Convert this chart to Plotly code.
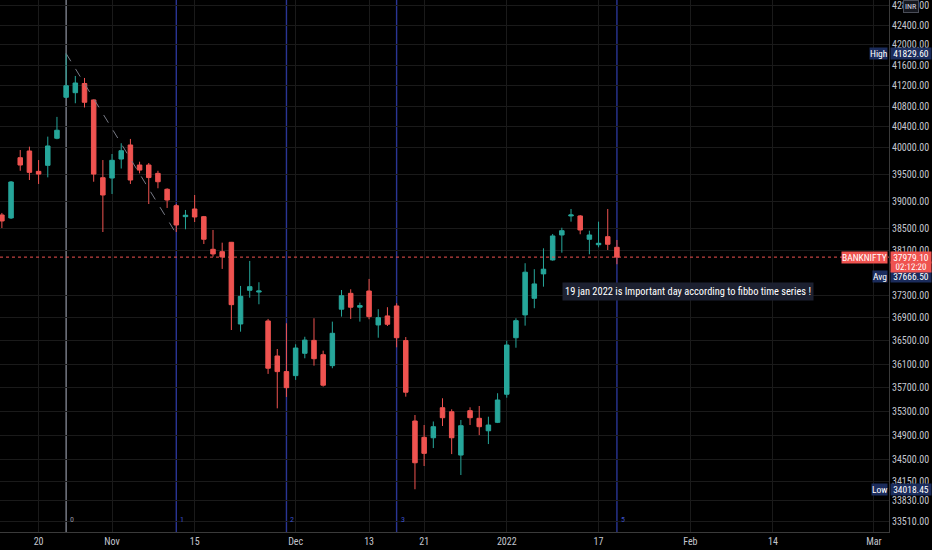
import numpy as np
import plotly.graph_objects as go

# ---------------- data ----------------
dates = [
    "2021-10-13", "2021-10-14", "2021-10-18", "2021-10-19", "2021-10-20", "2021-10-21", "2021-10-22",
    "2021-10-25", "2021-10-26", "2021-10-27", "2021-10-28", "2021-10-29",
    "2021-11-01", "2021-11-02", "2021-11-03", "2021-11-04", "2021-11-08", "2021-11-09", "2021-11-10",
    "2021-11-11", "2021-11-12", "2021-11-15", "2021-11-16", "2021-11-17", "2021-11-18", "2021-11-22",
    "2021-11-23", "2021-11-24", "2021-11-25", "2021-11-26", "2021-11-29", "2021-11-30",
    "2021-12-01", "2021-12-02", "2021-12-03", "2021-12-06", "2021-12-07", "2021-12-08", "2021-12-09",
    "2021-12-10", "2021-12-13", "2021-12-14", "2021-12-15", "2021-12-16", "2021-12-17", "2021-12-20",
    "2021-12-21", "2021-12-22", "2021-12-23", "2021-12-24", "2021-12-27", "2021-12-28", "2021-12-29",
    "2021-12-30", "2021-12-31",
    "2022-01-03", "2022-01-04", "2022-01-05", "2022-01-06", "2022-01-07", "2022-01-10", "2022-01-11",
    "2022-01-12", "2022-01-13", "2022-01-14", "2022-01-17", "2022-01-18", "2022-01-19",
]
opens = [38746, 38691, 39813, 39940, 39556, 39669, 40182, 40971, 41060, 41239, 40919, 39437,
         39431, 39788, 40054, 39675, 39675, 39518, 39221, 38917, 38715, 38856, 38715, 38120,
         38077, 38247, 36793, 37386, 37355, 36846, 36239, 35971, 35903, 36285, 36508, 36261,
         36073, 37052, 37332, 37087, 37373, 36776, 36934, 37109, 36505, 35138, 34867, 34860,
         35360, 35293, 34575, 35310, 35183, 34976, 35116, 35587, 36554, 36952, 37244, 37678,
         37928, 38380, 38728, 38728, 38302, 38203, 38349, 38156]
highs = [38783, 39375, 39958, 40022, 39769, 40213, 40591, 41829.6, 41387, 41348, 40928, 39769,
         39883, 40087, 40169, 39737, 39713, 39567, 39240, 38948, 38838, 39115, 38728, 38471,
         38240, 38253, 37463, 37910, 37529, 36881, 36359, 36806, 36440, 36571, 36893, 36330,
         36834, 37391, 37404, 37167, 37588, 37052, 37087, 37157, 36566, 35238, 35071, 35130,
         35519, 35333, 35155, 35367, 35389, 35210, 35604, 36502, 36893, 37869, 37762, 38138,
         38398, 38512, 38856, 38745, 38458, 38623, 38856, 38289]
lows = [38507, 38672, 39567, 39394, 39320, 39444, 40163, 40958, 40855, 40773, 39362, 38434,
        39134, 39609, 39320, 39518, 38948, 39240, 38875, 38434, 38484, 38617, 38216, 37987,
        37767, 36688, 36659, 37255, 37139, 35932, 35350, 35541, 35830, 36199, 36073, 35716,
        36029, 36922, 36881, 36834, 36876, 36554, 36758, 36388, 35546, 34018.45, 34396, 34690,
        35055, 34591, 34249, 35071, 34904, 34756, 35104, 35529, 36381, 36764, 37069, 37450,
        37915, 38059, 38623, 38393, 38030, 38156, 38107, 37851]
closes = [38636, 39357, 39675, 39537, 39505, 40035, 40335, 41196, 41249, 40874, 39505, 39115,
          39764, 39945, 39394, 39580, 39440, 39362, 39022, 38562, 38741, 38709, 38302, 38036,
          37982, 37132, 37279, 37450, 37373, 36029, 35971, 35698, 36376, 36513, 36192, 35740,
          36631, 37290, 37087, 37115, 36922, 36904, 36788, 36554, 35621, 34449, 34603, 35043,
          35193, 34860, 35060, 35193, 35043, 35071, 35490, 36428, 36851, 37708, 37499, 37762,
          38362, 38458, 38746, 38471, 38380, 38229, 38211, 37979.10]

price_ticks = [42800, 42400, 42000, 41600, 41200, 40800, 40400, 40000, 39500, 39000, 38500,
               38100, 37300, 36900, 36500, 36100, 35700, 35300, 34900, 34500, 34150, 33830, 33510]
time_tick_labels = ["20", "Nov", "15", "Dec", "13", "21", "2022", "17", "Feb", "14", "Mar"]
time_tick_bars = [0, 8, 17, 28, 36, 42, 51, 61, 71, 80, 91]

fib_anchor_date = "2021-10-25"
fib_unit_bars = 12
fib_levels = [0, 1, 2, 3, 5]
fib_low_price = 38400

high_value = 41829.60
low_value = 34018.45
avg_value = 37666.50
last_value = 37979.10
countdown = "02:12:20"
note_text = "19 jan 2022 is Important day according to fibbo time series !"
note_date = "2022-01-11"
note_price = 37360

# ---------------- layout constants ----------------
W, H = 932, 550
UP, DOWN = "#26a69a", "#ef5350"
GRID = "#1a1a1a"
TXT = "#c3c6ce"
NAVY = "#1b2c5c"
FONT = "Liberation Sans Narrow, Arial Narrow, Roboto Condensed, Liberation Sans, sans-serif"

origin = dates.index("2021-10-20")
bars = np.arange(len(dates)) - origin
xr = [-4.205, 92.64]
yr = [4.522909, 4.632517]

fig = go.Figure()
fig.add_trace(go.Candlestick(
    x=bars, open=opens, high=highs, low=lows, close=closes,
    increasing=dict(line=dict(color=UP, width=1), fillcolor=UP),
    decreasing=dict(line=dict(color=DOWN, width=1), fillcolor=DOWN),
    hoverinfo="skip", showlegend=False,
))

# current price dotted line
fig.add_trace(go.Scatter(x=xr, y=[last_value, last_value], mode="lines",
                         line=dict(color=DOWN, width=1, dash="dot"),
                         hoverinfo="skip", showlegend=False))

# fib time-zone diagonal
fib0 = int(bars[dates.index(fib_anchor_date)])
fig.add_trace(go.Scatter(x=[fib0, fib0 + fib_unit_bars], y=[high_value, fib_low_price], mode="lines",
                         line=dict(color="#787b86", width=1, dash="dash"),
                         hoverinfo="skip", showlegend=False))

shapes = []
annotations = []
for lv in fib_levels:
    xb = fib0 + lv * fib_unit_bars
    col = "#7d808c" if lv == 0 else "#2a3594"
    shapes.append(dict(type="line", xref="x", yref="paper", x0=xb, x1=xb, y0=0, y1=1,
                       line=dict(color=col, width=1.4), layer="below"))
    annotations.append(dict(x=xb, y=0.012, xref="x", yref="paper", text=str(lv), showarrow=False,
                            xanchor="left", yanchor="bottom", xshift=2,
                            font=dict(size=8, color="#8f929c" if lv == 0 else "#3a50c8", family=FONT)))

def lab(price, text, bg, side="value", yshift=0, fc="white", size=9.5):
    return dict(x=1, xref="paper", y=np.log10(price), yref="y", text=text, showarrow=False,
                xanchor="left" if side == "value" else "right", yanchor="middle", yshift=yshift,
                bgcolor=bg, borderpad=0, font=dict(size=size, color=fc, family=FONT),
                xshift=1 if side == "value" else -1, align="center", width=40 if side == "value" else None)

annotations += [
    lab(high_value, "41829.60", NAVY),
    lab(high_value, "High", NAVY, side="name"),
    lab(low_value, "34018.45", NAVY),
    lab(low_value, "Low", NAVY, side="name"),
    lab(avg_value, "37666.50", NAVY, yshift=-1.5),
    lab(avg_value, "Avg", NAVY, side="name", yshift=-1.5),
    lab(last_value, countdown, DOWN, yshift=-9.5, size=9),
    lab(last_value, f"{last_value:.2f}", DOWN),
    lab(last_value, "BANKNIFTY", DOWN, side="name"),
    dict(x=1, xref="paper", y=0.988, yref="paper", text="INR", showarrow=False, xanchor="left",
         xshift=14, yanchor="middle", bgcolor="#15171e", bordercolor="#4a4d57", borderwidth=1,
         borderpad=1, font=dict(size=8, color="#d8dae0", family=FONT)),
    dict(x=int(bars[dates.index(note_date)]), xref="x", y=np.log10(note_price), yref="y",
         text=note_text, showarrow=False, xanchor="left", yanchor="middle", xshift=0,
         bgcolor="#1c2030", borderpad=2, font=dict(size=10.4, color="white", family=FONT)),
]

fig.update_layout(
    width=W, height=H, margin=dict(l=0, r=43, t=0, b=18),
    paper_bgcolor="#000000", plot_bgcolor="#000000",
    shapes=shapes, annotations=annotations, showlegend=False,
    font=dict(family=FONT, color=TXT, size=10),
)
fig.update_xaxes(range=xr, tickmode="array", tickvals=time_tick_bars, ticktext=time_tick_labels,
                 showgrid=True, gridcolor=GRID, gridwidth=1, zeroline=False,
                 showline=True, linecolor="#3a3a3a", linewidth=1, ticks="",
                 tickfont=dict(size=10, color=TXT, family=FONT),
                 rangeslider=dict(visible=False), fixedrange=True)
fig.update_yaxes(type="log", range=yr, side="right", tickmode="array", tickvals=price_ticks,
                 ticktext=[f"{v:.2f}" for v in price_ticks], ticklabeloverflow="allow",
                 showgrid=True, gridcolor=GRID, gridwidth=1, zeroline=False,
                 showline=True, linecolor="#3a3a3a", linewidth=1, ticks="",
                 tickfont=dict(size=10, color=TXT, family=FONT), fixedrange=True)

fig.write_html("out.html", config={"displayModeBar": False, "staticPlot": True},
               post_script="document.body.style.margin='0px';document.body.style.padding='0px';"
                           "document.body.style.background='#000';")
